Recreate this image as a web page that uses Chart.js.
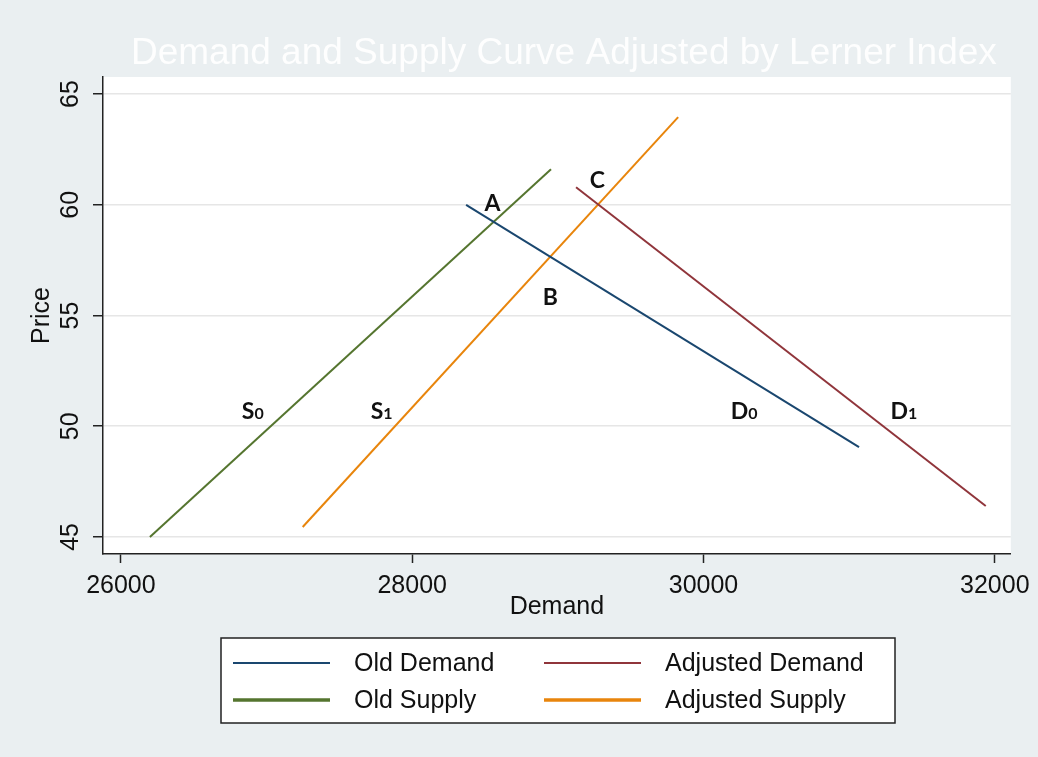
<!DOCTYPE html>
<html>
<head>
<meta charset="utf-8">
<script src="https://cdn.jsdelivr.net/npm/chart.js@4/dist/chart.umd.min.js"></script>
<style>
  html, body { margin: 0; padding: 0; background: #eaeff1; }
  #wrap { width: 1038px; height: 757px; position: relative; }
</style>
</head>
<body>
<div id="wrap"><canvas id="c"></canvas></div>
<script>
// Quantity (Demand) and Price end points of each curve
const oldDemandQty = [28370, 31068];
const oldDemandPrice = [60.0, 49.06];
const adjDemandQty = [29125, 31938];
const adjDemandPrice = [60.79, 46.40];
const oldSupplyQty = [26199, 28953];
const oldSupplyPrice = [45.0, 61.60];
const adjSupplyQty = [27248, 29826];
const adjSupplyPrice = [45.45, 63.96];

const seriesNames = ['Old Demand', 'Adjusted Demand', 'Old Supply', 'Adjusted Supply'];

const xTickValues = [26000, 28000, 30000, 32000];
const yTickValues = [45, 50, 55, 60, 65];

// Equilibrium points and curve names, placed in data units
const markLetters = ['A', 'B', 'C', 'S', 'S', 'D', 'D'];
const markSubs = ['', '', '', '0', '1', '0', '1'];
const markQty = [28551, 28949, 29271, 26905, 27790, 30279, 31376];
const markPrice = [60.12, 55.88, 61.12, 50.73, 50.73, 50.73, 50.73];

const chartTitle = 'Demand and Supply Curve Adjusted by Lerner Index';

const pairs = (xs, ys) => xs.map((x, i) => ({ x, y: ys[i] }));

const colors = ['#1a476f', '#90353b', '#55752f', '#e8850c'];
const curves = [
  pairs(oldDemandQty, oldDemandPrice),
  pairs(adjDemandQty, adjDemandPrice),
  pairs(oldSupplyQty, oldSupplyPrice),
  pairs(adjSupplyQty, adjSupplyPrice)
];

const FONT = '"Liberation Sans", Arial, sans-serif';
const MARK_FONT = 'Lato, "Open Sans", sans-serif';

const backdrop = {
  id: 'backdrop',
  beforeDraw(chart) {
    const { ctx, chartArea: a } = chart;
    ctx.save();
    ctx.fillStyle = '#eaeff1';
    ctx.fillRect(0, 0, chart.width, chart.height);
    ctx.fillStyle = '#ffffff';
    ctx.fillRect(a.left, a.top, a.right - a.left, a.bottom - a.top);
    ctx.restore();
  }
};

const decorations = {
  id: 'decorations',
  afterDraw(chart) {
    const { ctx, chartArea: a, scales } = chart;
    ctx.save();

    // title
    ctx.fillStyle = 'rgba(255,255,255,0.92)';
    ctx.font = '37px ' + FONT;
    ctx.textAlign = 'center';
    ctx.textBaseline = 'middle';
    ctx.fillText(chartTitle, (a.left + a.right) / 2 + 7, 54);

    // rotated y tick labels
    ctx.fillStyle = '#111';
    ctx.font = '25px ' + FONT;
    scales.y.ticks.forEach(t => {
      const py = scales.y.getPixelForValue(t.value);
      ctx.save();
      ctx.translate(70, py);
      ctx.rotate(-Math.PI / 2);
      ctx.textAlign = 'center';
      ctx.textBaseline = 'middle';
      ctx.fillText(String(t.value), 0, 1);
      ctx.restore();
    });

    // point / curve labels
    ctx.fillStyle = '#111';
    ctx.textBaseline = 'alphabetic';
    markLetters.forEach((L, i) => {
      const px = scales.x.getPixelForValue(markQty[i]);
      const py = scales.y.getPixelForValue(markPrice[i]);
      ctx.font = 'bold 23px ' + MARK_FONT;
      const wL = ctx.measureText(L).width;
      ctx.font = 'bold 16px ' + MARK_FONT;
      const wS = markSubs[i] ? ctx.measureText(markSubs[i]).width : 0;
      const x0 = px - (wL + wS) / 2;
      const base = py + 8.5;
      ctx.textAlign = 'left';
      ctx.font = 'bold 23px ' + MARK_FONT;
      ctx.fillText(L, x0, base);
      if (markSubs[i]) {
        ctx.font = 'bold 16px ' + MARK_FONT;
        ctx.fillText(markSubs[i], x0 + wL, base);
      }
    });

    // legend box
    const bx = 221, by = 638, bw = 674, bh = 85;
    ctx.fillStyle = '#ffffff';
    ctx.fillRect(bx, by, bw, bh);
    ctx.strokeStyle = '#222';
    ctx.lineWidth = 1.5;
    ctx.strokeRect(bx, by, bw, bh);
    const colX = [233, 544];
    const rowY = [663, 700];
    const widths = [2, 2, 3.5, 3.5];
    chart.data.datasets.forEach((ds, i) => {
      const cx = colX[i % 2], cy = rowY[Math.floor(i / 2)];
      ctx.strokeStyle = ds.borderColor;
      ctx.lineWidth = widths[i];
      ctx.beginPath();
      ctx.moveTo(cx, cy);
      ctx.lineTo(cx + 97, cy);
      ctx.stroke();
      ctx.fillStyle = '#111';
      ctx.font = '25px ' + FONT;
      ctx.textAlign = 'left';
      ctx.textBaseline = 'middle';
      ctx.fillText(ds.label, cx + 121, cy + 1);
    });
    ctx.restore();
  }
};

new Chart(document.getElementById('c'), {
  type: 'scatter',
  data: {
    datasets: curves.map((pts, i) => ({
      label: seriesNames[i],
      data: pts,
      showLine: true,
      borderColor: colors[i],
      backgroundColor: colors[i],
      borderWidth: 2,
      pointRadius: 0,
      pointHoverRadius: 0,
      tension: 0
    }))
  },
  options: {
    responsive: true,
    maintainAspectRatio: false,
    animation: false,
    events: [],
    layout: { padding: { left: 0, right: 26, top: 77, bottom: 117 } },
    plugins: {
      legend: { display: false },
      title: { display: false },
      tooltip: { enabled: false }
    },
    scales: {
      x: {
        type: 'linear',
        min: 25877,
        max: 32110,
        afterBuildTicks: s => { s.ticks = xTickValues.map(v => ({ value: v })); },
        afterFit: s => { s.height = 86; },
        border: { display: true, color: '#222', width: 1.5 },
        grid: { drawOnChartArea: false, drawTicks: true, tickLength: 9, tickColor: '#222', tickWidth: 1.5 },
        ticks: {
          color: '#111',
          padding: 8,
          maxRotation: 0,
          font: { family: FONT, size: 25, lineHeight: 1.2 },
          callback: v => String(v)
        },
        title: {
          display: true,
          text: 'Demand',
          color: '#111',
          font: { family: FONT, size: 25, lineHeight: 1.2 },
          padding: { top: 0, bottom: 18 }
        }
      },
      y: {
        type: 'linear',
        min: 44.23,
        max: 65.77,
        afterBuildTicks: s => { s.ticks = yTickValues.map(v => ({ value: v })); },
        afterFit: s => { s.width = 103; },
        border: { display: true, color: '#222', width: 1.5 },
        grid: { color: '#e6e6e6', lineWidth: 1.5, drawTicks: true, tickLength: 10, tickColor: '#222', tickWidth: 1.5 },
        ticks: { display: false },
        title: {
          display: true,
          text: 'Price',
          color: '#111',
          font: { family: FONT, size: 25, lineHeight: 1.2 },
          padding: { top: 27, bottom: 0 }
        }
      }
    }
  },
  plugins: [backdrop, decorations]
});
</script>
</body>
</html>
